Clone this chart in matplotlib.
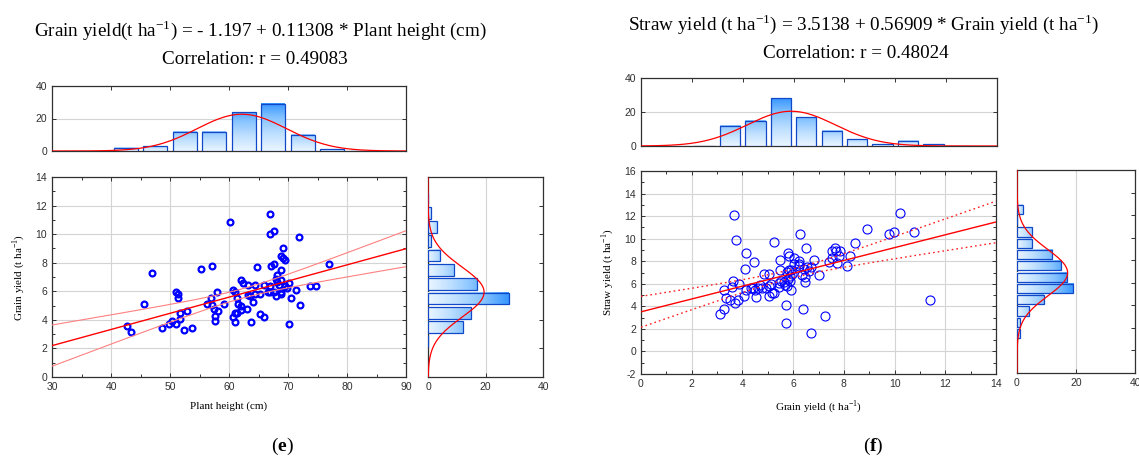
import numpy as np
import matplotlib
matplotlib.use('Agg')
import matplotlib.pyplot as plt
from matplotlib.colors import LinearSegmentedColormap
from matplotlib.ticker import MultipleLocator

plt.rcParams['font.family'] = ['Liberation Sans', 'DejaVu Sans']
plt.rcParams['mathtext.fontset'] = 'custom'
plt.rcParams['mathtext.rm'] = 'Liberation Serif'
plt.rcParams['mathtext.bf'] = 'Liberation Serif:bold'
plt.rcParams['axes.unicode_minus'] = False

# ---- panel (e): plant height vs grain yield
plant_height = [42.7, 43.4, 45.6, 46.9, 48.6, 49.8, 50.4, 51.1, 51.1, 51.4,
                51.4, 51.7, 51.7, 52.4, 52.8, 53.7, 55.3, 56.3, 56.9, 57.2,
                57.2, 57.4, 57.6, 57.6, 57.9, 58.2, 59.1, 60.1, 60.7, 61.1,
                60.7, 61.1, 61.1, 61.4, 61.4, 61.6, 62.0, 62.0, 62.1, 62.4,
                63.0, 63.3, 63.3, 63.6, 63.7, 64.0, 64.4, 64.4, 64.7, 65.3,
                65.3, 66.0, 66.0, 66.6, 66.9, 66.9, 67.0, 66.9, 67.2, 67.6,
                67.6, 67.6, 67.9, 67.9, 68.2, 68.2, 68.5, 68.8, 68.8, 68.8,
                68.8, 68.8, 69.2, 69.2, 69.5, 69.5, 69.8, 70.1, 70.1, 70.5,
                71.4, 71.8, 72.0, 73.7, 74.7, 76.9]
grain_e = [3.55, 3.15, 5.13, 7.26, 3.41, 3.69, 3.94, 3.69, 5.93, 5.79,
           5.55, 4.46, 4.06, 3.29, 4.60, 3.43, 7.54, 5.13, 5.55, 7.79,
           5.04, 4.76, 4.25, 3.92, 5.95, 4.60, 5.13, 10.85, 6.09, 5.95,
           4.20, 4.48, 3.83, 4.48, 5.53, 5.13, 4.95, 4.71, 6.77, 6.58,
           4.76, 6.46, 5.76, 5.67, 3.83, 5.27, 5.79, 6.46, 7.68, 5.79,
           4.39, 6.46, 4.22, 5.95, 11.41, 10.03, 6.35, 5.95, 7.79, 10.20,
           7.93, 5.95, 6.88, 5.67, 7.14, 6.63, 6.46, 7.51, 8.45, 6.77,
           5.95, 5.79, 9.01, 8.33, 8.21, 6.35, 6.21, 6.60, 3.69, 5.53,
           6.07, 9.80, 5.02, 6.35, 6.35, 7.93]

# ---- panel (f): grain yield vs straw yield
grain_f = [3.10, 3.28, 3.27, 3.34, 3.52, 3.59, 3.64, 3.68, 3.70, 3.73,
           3.82, 3.86, 4.05, 4.11, 4.16, 4.16, 4.32, 4.41, 4.44, 4.49,
           4.53, 4.60, 4.70, 4.79, 4.87, 4.92, 5.03, 5.03, 5.06, 5.12,
           5.15, 5.23, 5.25, 5.43, 5.45, 5.48, 5.50, 5.53, 5.65, 5.67,
           5.70, 5.73, 5.75, 5.75, 5.78, 5.81, 5.83, 5.83, 5.88, 5.88,
           5.91, 5.92, 5.95, 6.03, 6.05, 6.22, 6.22, 6.25, 6.28, 6.36,
           6.37, 6.44, 6.46, 6.46, 6.51, 6.54, 6.63, 6.69, 6.71, 6.82,
           7.03, 7.24, 7.43, 7.53, 7.55, 7.67, 7.68, 7.71, 7.81, 7.84,
           8.13, 8.23, 8.42, 8.93, 9.78, 9.99, 10.20, 10.77, 11.39]
straw = [3.34, 3.75, 5.44, 4.76, 4.55, 5.70, 6.29, 12.13, 4.31, 9.86,
         4.58, 5.94, 4.93, 7.35, 8.77, 5.41, 5.64, 5.64, 7.94, 5.44,
         4.82, 5.64, 5.88, 5.64, 6.88, 5.64, 5.82, 6.91, 4.88, 6.00,
         5.17, 5.17, 9.69, 6.11, 5.70, 8.12, 7.21, 6.29, 6.14, 5.88,
         4.11, 2.49, 7.06, 5.76, 6.38, 8.77, 8.42, 7.24, 6.73, 6.29,
         7.21, 5.41, 6.85, 7.71, 8.33, 8.06, 7.71, 7.62, 10.45, 6.76,
         3.75, 7.30, 6.59, 6.12, 9.18, 7.53, 7.15, 1.66, 7.53, 8.15,
         6.82, 3.11, 7.89, 8.95, 8.33, 9.18, 8.92, 7.80, 8.42, 8.92,
         7.62, 8.50, 9.66, 10.90, 10.42, 10.60, 12.25, 10.57, 4.58]

# histogram counts (bin centres / counts)
ph_centres = [42.5, 47.5, 52.5, 57.5, 62.5, 67.5, 72.5, 77.5, 82.5]
ph_counts = [2, 3, 12, 12, 24, 29, 10, 1, 0]
gy_centres = [2.5, 3.5, 4.5, 5.5, 6.5, 7.5, 8.5, 9.5, 10.5, 11.5, 12.5]
gy_counts = [0, 12, 15, 28, 17, 9, 4, 1, 3, 1, 0]
sy_centres = [1.5, 2.5, 3.5, 4.5, 5.5, 6.5, 7.5, 8.5, 9.5, 10.5, 11.5, 12.5]
sy_counts = [1, 1, 4, 9, 19, 17, 15, 12, 5, 5, 0, 2]

# regression coefficients from the titles
coef_e = (-1.197, 0.11308)
coef_f = (3.5138, 0.56909)

W, H = 1139, 459
EDGE = '#1048c8'
CMAP = LinearSegmentedColormap.from_list(
    'bars', [(0, '#eaf5ff'), (0.35, '#bfe0ff'), (0.7, '#86c3ff'), (1, '#3a98ff')])
GRID = '#d4d4d4'
SERIF = 'Liberation Serif'


def box(x0, y0, x1, y1):
    # pixel box (top-left origin) -> figure fraction rect
    return [x0 / W, 1 - y1 / H, (x1 - x0) / W, (y1 - y0) / H]


def style(ax):
    for s in ax.spines.values():
        s.set_color('#303030')
        s.set_linewidth(0.9)
    ax.tick_params(which='both', direction='in', top=True, right=True,
                   labelsize=7.5, colors='#303030', width=0.7)
    ax.tick_params(which='major', length=3)
    ax.tick_params(which='minor', length=2)


def grad_bars(ax, centres, counts, width, vmax, horizontal=False):
    for c, n in zip(centres, counts):
        if horizontal:
            r = ax.barh(c, n, height=width, color='none', edgecolor=EDGE,
                        linewidth=0.9, zorder=4)[0]
        else:
            r = ax.bar(c, n, width=width, color='none', edgecolor=EDGE,
                       linewidth=0.9, zorder=4)[0]
        if n <= 0:
            continue
        x0, y0 = r.get_x(), r.get_y()
        w, h = r.get_width(), r.get_height()
        g = np.linspace(0, 1, 40) * (0.4 + 0.6 * n / vmax)
        img = g.reshape(1, -1) if horizontal else g.reshape(-1, 1)
        ax.imshow(img, cmap=CMAP, vmin=0, vmax=1, extent=(x0, x0 + w, y0, y0 + h),
                  origin='lower', aspect='auto', zorder=3, interpolation='bilinear')


def normal_curve(data, n, bw, lo, hi):
    m, s = np.mean(data), np.std(data, ddof=1)
    t = np.linspace(lo, hi, 300)
    return t, n * bw * np.exp(-0.5 * ((t - m) / s) ** 2) / (s * np.sqrt(2 * np.pi))


def conf_band(x, y, coef, t):
    x, y = np.asarray(x), np.asarray(y)
    a, b = coef
    res = y - (a + b * x)
    s = np.sqrt(np.sum(res ** 2) / (len(x) - 2))
    sxx = np.sum((x - x.mean()) ** 2)
    se = s * np.sqrt(1 / len(x) + (t - x.mean()) ** 2 / sxx)
    fit = a + b * t
    return fit, fit - 1.987 * se, fit + 1.987 * se


def panel(fig, sc_box, top_box, side_box, x, y, xlim, ylim, xstep, ystep,
          top_centres, top_counts, top_bw, side_centres, side_counts, side_bw,
          coef, xlabel, ylabel, big_markers):
    ax = fig.add_axes(box(*sc_box))
    style(ax)
    ax.set_xlim(*xlim)
    ax.set_ylim(*ylim)
    ax.xaxis.set_major_locator(MultipleLocator(xstep))
    ax.yaxis.set_major_locator(MultipleLocator(ystep))
    ax.xaxis.set_minor_locator(MultipleLocator(xstep / 2))
    ax.yaxis.set_minor_locator(MultipleLocator(ystep / 2))
    ax.grid(True, which='major', color=GRID, lw=0.8, zorder=0)
    t = np.linspace(xlim[0], xlim[1], 200)
    fit, lo, hi = conf_band(x, y, coef, t)
    if big_markers:
        ax.plot(x, y, 'o', ms=6.5, mfc='none', mec='#0000ff', mew=0.8, zorder=3)
        ax.plot(t, lo, color='#ff2020', lw=1.0, ls=(0, (1.2, 2.2)), zorder=4)
        ax.plot(t, hi, color='#ff2020', lw=1.0, ls=(0, (1.2, 2.2)), zorder=4)
    else:
        ax.plot(x, y, 'o', ms=4.2, mfc='none', mec='#0000ff', mew=1.6, zorder=3)
        ax.plot(t, lo, color='#ff8080', lw=0.8, zorder=4)
        ax.plot(t, hi, color='#ff8080', lw=0.8, zorder=4)
    ax.plot(t, fit, color='#ff0000', lw=1.0, zorder=4)
    ax.set_xlabel(xlabel, family=SERIF, fontsize=8, labelpad=7)
    ax.set_ylabel(ylabel, family=SERIF, fontsize=8, labelpad=6)

    # top histogram
    ht = fig.add_axes(box(*top_box))
    style(ht)
    ht.set_xlim(*xlim)
    ht.set_ylim(0, 40)
    ht.xaxis.set_major_locator(MultipleLocator(xstep))
    ht.set_yticks([0, 20, 40])
    ht.tick_params(axis='x', labelbottom=False, bottom=False)
    ht.grid(True, axis='y', color=GRID, lw=0.8, zorder=0)
    grad_bars(ht, top_centres, top_counts, top_bw * 0.8, max(top_counts))
    tx, ty = normal_curve(x, len(x), top_bw, xlim[0], xlim[1])
    ht.plot(tx, ty, color='#ff0000', lw=0.9, zorder=5)
    ht.set_xlim(*xlim)
    ht.set_ylim(0, 40)

    # side histogram
    hs = fig.add_axes(box(*side_box))
    style(hs)
    hs.set_ylim(*ylim)
    hs.set_xlim(0, 40)
    hs.yaxis.set_major_locator(MultipleLocator(ystep))
    hs.set_xticks([0, 20, 40])
    hs.tick_params(axis='y', labelleft=False, left=False)
    hs.tick_params(axis='x', top=False)
    hs.grid(True, axis='x', color=GRID, lw=0.8, zorder=0)
    grad_bars(hs, side_centres, side_counts, side_bw * 0.82, max(side_counts), horizontal=True)
    sy_, sx_ = normal_curve(y, len(y), side_bw, ylim[0], ylim[1])
    hs.plot(sx_, sy_, color='#ff0000', lw=0.9, zorder=5)
    hs.set_xlim(0, 40)
    hs.set_ylim(*ylim)


fig = plt.figure(figsize=(W / 100, H / 100), dpi=100)
inv = r'$^{\mathregular{-1}}$'

panel(fig, (52, 177, 406, 377), (52, 86, 406, 151), (428, 177, 543, 377),
      plant_height, grain_e, (30, 90), (0, 14), 10, 2,
      ph_centres, ph_counts, 5, gy_centres, gy_counts, 1,
      coef_e, 'Plant height (cm)', 'Grain yield (t ha' + inv + ')', False)

panel(fig, (641, 171, 996, 374), (641, 78, 997, 146), (1017, 170, 1135, 373),
      grain_f, straw, (0, 14), (-2, 16), 2, 2,
      gy_centres, gy_counts, 1, sy_centres, sy_counts, 1,
      coef_f, 'Grain yield (t ha' + inv + ')', 'Straw yield (t ha' + inv + ')', True)

fig.text(260 / W, 1 - 30 / H,
         'Grain yield(t ha' + inv + ') = - 1.197 + 0.11308 * Plant height (cm)',
         family=SERIF, fontsize=13.8, ha='center', va='center')
fig.text(255 / W, 1 - 60 / H, 'Correlation: r = 0.49083',
         family=SERIF, fontsize=13.8, ha='center', va='center')
fig.text(864 / W, 1 - 24 / H,
         'Straw yield (t ha' + inv + ') = 3.5138 + 0.56909 * Grain yield (t ha' + inv + ')',
         family=SERIF, fontsize=13.8, ha='center', va='center')
fig.text(856 / W, 1 - 53 / H, 'Correlation: r = 0.48024',
         family=SERIF, fontsize=13.8, ha='center', va='center')

fig.text(282 / W, 1 - 446 / H, r'($\mathbf{e}$)', family=SERIF, fontsize=14,
         ha='center', va='center')
fig.text(873 / W, 1 - 446 / H, r'($\mathbf{f}$)', family=SERIF, fontsize=14,
         ha='center', va='center')

fig.savefig('out.png', dpi=100)
